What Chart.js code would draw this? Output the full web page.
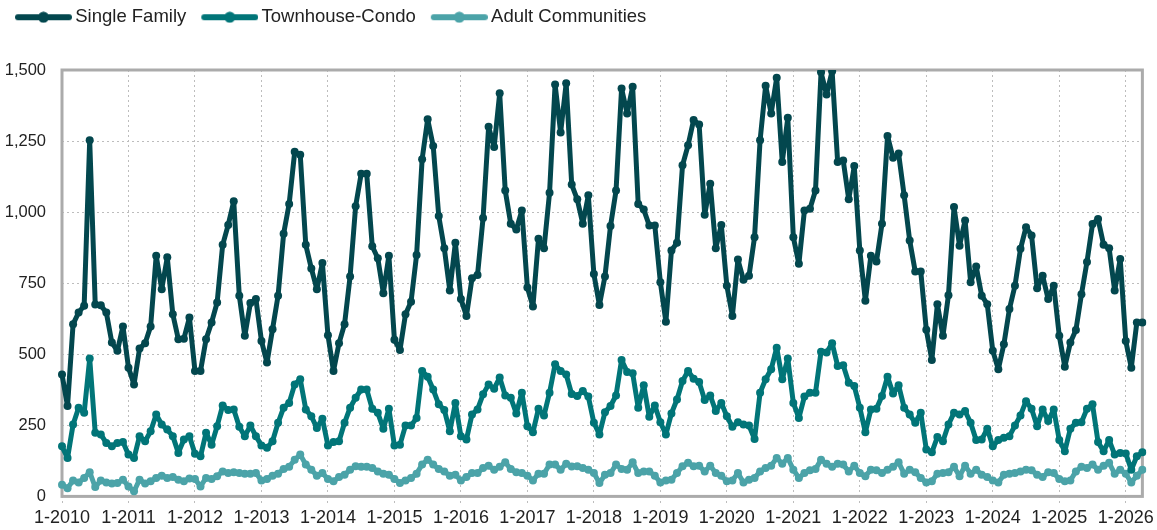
<!DOCTYPE html>
<html>
<head>
<meta charset="utf-8">
<script src="https://cdn.jsdelivr.net/npm/chart.js@4/dist/chart.umd.min.js"></script>
<style>
  html, body { margin: 0; padding: 0; background: #fff; }
  #wrap { width: 1157px; height: 530px; position: relative; }
</style>
</head>
<body>
<div id="wrap"><canvas id="c" width="1157" height="530"></canvas></div>
<script>
// ---- categories: monthly, Jan 2010 .. Apr 2026 ----
const startYear = 2010;
const monthCount = 196;
const months = [];
for (let k = 0; k < monthCount; k++) {
  months.push(((k % 12) + 1) + '-' + (startYear + Math.floor(k / 12)));
}

// ---- series ----
const singleFamily = [
  429,318,606,647,671,1253,675,672,647,541,512,598,
  453,394,520,539,598,847,729,841,641,553,555,629,
  441,441,553,612,682,885,955,1038,706,565,680,694,
  547,471,588,706,924,1029,1212,1202,885,802,729,821,
  567,441,539,606,774,1021,1135,1135,880,838,715,847,
  551,515,641,685,849,1186,1327,1233,986,873,724,892,
  694,635,767,779,979,1300,1229,1418,1076,959,939,1006,
  735,668,906,873,1068,1449,1280,1453,1097,1045,959,1059,
  782,673,774,951,1076,1435,1347,1441,1029,1009,953,953,
  753,614,865,892,1165,1235,1324,1308,991,1100,873,955,
  741,635,833,762,776,912,1253,1445,1347,1473,1176,1332,
  912,818,1006,1012,1076,1492,1414,1496,1176,1182,1045,1162,
  865,688,847,826,959,1268,1191,1206,1059,900,791,791,
  586,480,676,565,708,1018,882,971,753,809,706,676,
  512,447,535,659,741,871,947,918,732,776,694,741,
  565,456,541,585,711,825,958,976,885,873,724,835,
  547,453,612,612
];
const townhouseCondo = [
  176,135,253,312,294,485,224,218,188,176,188,191,
  147,135,212,194,229,288,253,235,212,153,200,212,
  150,141,224,182,247,320,304,306,245,212,249,212,
  179,171,194,259,312,329,394,412,306,282,241,273,
  179,191,194,259,312,347,376,376,308,294,238,308,
  179,182,249,249,276,441,421,376,324,304,229,329,
  212,200,288,306,359,394,379,418,355,347,292,365,
  247,226,308,285,365,465,441,429,360,353,371,351,
  259,218,296,318,355,480,438,433,312,391,280,320,
  261,218,292,341,406,441,414,402,339,355,300,329,
  282,245,261,253,249,202,365,412,447,523,412,485,
  329,276,351,365,365,509,506,539,459,461,400,388,
  312,226,306,308,353,421,362,391,312,288,259,294,
  165,155,209,194,253,294,288,300,259,198,200,238,
  176,198,206,212,249,285,335,308,247,306,265,306,
  198,159,238,259,261,308,324,191,159,198,147,153,
  151,94,141,155
];
const adultCommunities = [
  41,29,56,49,65,85,33,56,49,45,47,59,
  35,18,59,45,53,65,73,65,68,59,53,63,
  61,35,65,61,71,88,82,85,82,80,80,82,
  56,61,73,80,96,104,129,147,112,94,73,82,
  61,53,68,76,94,106,104,104,100,88,80,76,
  61,47,56,65,80,112,129,112,96,88,73,76,
  56,68,82,82,100,108,94,104,120,96,85,82,
  73,56,80,80,112,112,94,115,105,106,100,94,
  82,47,76,82,112,96,94,120,82,88,88,73,
  49,56,59,82,106,118,106,108,88,108,82,73,
  53,56,82,49,59,65,88,100,108,135,115,135,
  94,65,82,92,96,129,115,104,115,112,88,108,
  82,71,94,92,82,94,104,120,80,94,85,65,
  49,53,80,82,85,104,71,108,80,94,76,68,
  56,49,76,80,82,88,94,92,76,68,85,82,
  61,53,56,88,104,100,112,94,108,118,80,94,
  80,49,73,94
];

const seriesNames = ['Single Family', 'Townhouse-Condo', 'Adult Communities'];
const seriesColors = ['#03474E', '#017578', '#4BA3A8'];
const yTicks = [0, 250, 500, 750, 1000, 1250, 1500];

const FONT = '"Liberation Sans", Arial, Helvetica, sans-serif';

// legend marker: line with a dot, drawn inside a canvas centred on the legend box
function makeMarker(color) {
  const cv = document.createElement('canvas');
  cv.width = 62; cv.height = 12;
  const g = cv.getContext('2d');
  g.strokeStyle = color; g.lineWidth = 6; g.lineCap = 'round';
  g.beginPath(); g.moveTo(8, 6); g.lineTo(59, 6); g.stroke();
  g.fillStyle = color;
  g.beginPath(); g.arc(33.5, 6, 5.5, 0, Math.PI * 2); g.fill();
  return cv;
}
const markers = seriesColors.map(makeMarker);

const framePlugin = {
  id: 'frame',
  beforeInit(chart) {
    const origFit = chart.legend.fit;
    chart.legend.fit = function () {
      origFit.bind(chart.legend)();
      this.height = 78;
    };
  },
  beforeDatasetsDraw(chart) {
    const a = chart.chartArea, ctx = chart.ctx;
    ctx.save();
    ctx.strokeStyle = '#ababab';
    ctx.lineWidth = 3;
    ctx.strokeRect(a.left, a.top, a.right - a.left, a.bottom - a.top);
    ctx.restore();
  }
};

const datasets = [singleFamily, townhouseCondo, adultCommunities].map((d, i) => ({
  label: seriesNames[i],
  data: d,
  borderColor: seriesColors[i],
  backgroundColor: seriesColors[i],
  pointBackgroundColor: seriesColors[i],
  pointBorderWidth: 0,
  pointRadius: 4,
  borderWidth: 5,
  borderJoinStyle: 'round',
  borderCapStyle: 'round',
  tension: 0,
  fill: false
}));

new Chart(document.getElementById('c'), {
  type: 'line',
  data: { labels: months, datasets },
  plugins: [framePlugin],
  options: {
    responsive: false,
    animation: false,
    layout: { padding: { top: -8, left: 0, right: 14, bottom: -2 } },
    plugins: {
      legend: {
        position: 'top',
        align: 'start',
        labels: {
          usePointStyle: true,
          pointStyleWidth: 50,
          padding: 16,
          color: '#222',
          font: { family: FONT, size: 18.5 },
          generateLabels(chart) {
            const items = Chart.defaults.plugins.legend.labels.generateLabels(chart);
            items.forEach((it, i) => { it.pointStyle = markers[i]; });
            return items;
          }
        }
      },
      tooltip: { enabled: false }
    },
    scales: {
      x: {
        type: 'category',
        offset: false,
        grid: {
          color: '#bdbdbd',
          lineWidth: 1,
          tickLength: 8,
          drawTicks: true,
          tickBorderDash: [2, 3],
          tickColor: '#bdbdbd'
        },
        border: { display: false, dash: [2, 3] },
        ticks: {
          autoSkip: false,
          maxRotation: 0,
          minRotation: 0,
          padding: 3,
          color: '#222',
          font: { family: FONT, size: 18 },
          callback(value, index) {
            return index % 12 === 0 ? months[index] : null;
          }
        }
      },
      y: {
        min: 0,
        max: 1500,
        border: { display: false, dash: [2, 3] },
        grid: { color: '#bdbdbd', lineWidth: 1, drawTicks: false },
        afterBuildTicks(scale) { scale.ticks = yTicks.map(v => ({ value: v })); },
        afterFit(scale) { scale.width = 62; },
        ticks: {
          padding: 16,
          color: '#222',
          font: { family: FONT, size: 16.5 },
          callback(v) { return v.toLocaleString('en-US'); }
        }
      }
    }
  }
});
</script>
</body>
</html>
